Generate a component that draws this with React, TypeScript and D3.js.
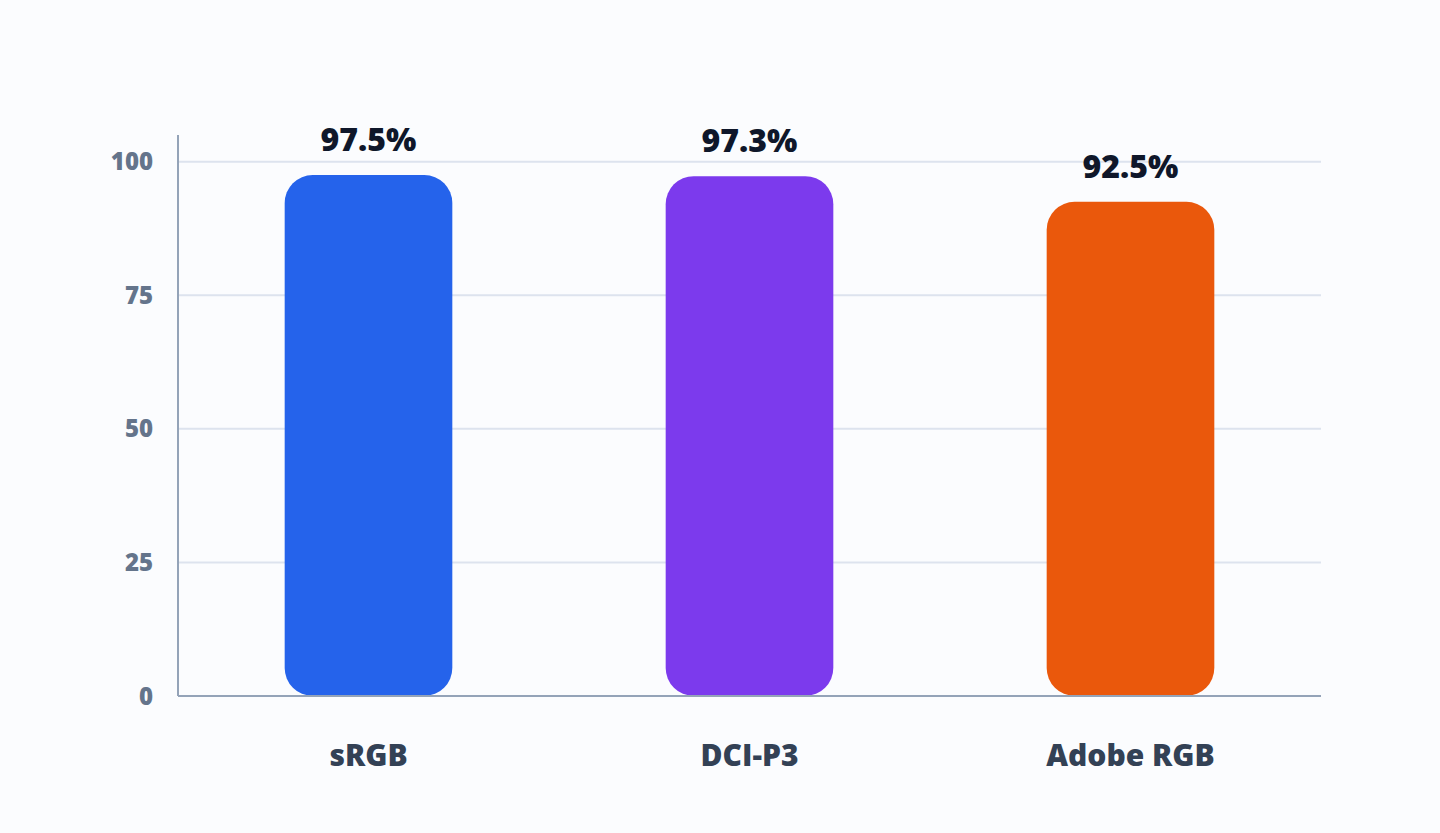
import React, {useRef, useEffect} from "react";
import * as d3 from "d3";

const categories = ["sRGB", "DCI-P3", "Adobe RGB"];
const coverage = [97.5, 97.3, 92.5];
const barColors = ["#2563eb", "#7c3aed", "#ea580c"];
const yTicks = [0, 25, 50, 75, 100];

const W = 1440;
const H = 833;
const FONT = "'Open Sans', 'Noto Sans', sans-serif";

export default function App() {
  const svgRef = useRef<SVGSVGElement>(null);

  useEffect(() => {
    if (!svgRef.current) return;
    const margin = {top: 135, right: 119, bottom: 137, left: 178};
    const width = W - margin.left - margin.right;
    const height = H - margin.top - margin.bottom;

    const svg = d3.select(svgRef.current);
    svg.selectAll("*").remove();
    const g = svg.append("g").attr("transform", `translate(${margin.left},${margin.top})`);

    const x = d3
      .scaleBand()
      .domain(categories)
      .range([0, width])
      .paddingInner(0.56)
      .paddingOuter(0.28);

    const y = d3.scaleLinear().domain([0, 105]).range([height, 0]);

    // grid lines
    g.selectAll(".grid")
      .data(yTicks.filter((d) => d > 0))
      .join("line")
      .attr("x1", 0)
      .attr("x2", width)
      .attr("y1", (d) => y(d))
      .attr("y2", (d) => y(d))
      .attr("stroke", "#dde3ee")
      .attr("stroke-width", 2);

    // y tick labels
    g.selectAll(".ytick")
      .data(yTicks)
      .join("text")
      .attr("x", -25)
      .attr("y", (d) => y(d))
      .attr("dy", "0.36em")
      .attr("text-anchor", "end")
      .style("font-family", FONT)
      .style("font-weight", 800)
      .style("font-size", "24px")
      .style("fill", "#64748b")
      .text((d) => d);

    // bars
    const bars = categories.map((c, i) => ({cat: c, value: coverage[i], color: barColors[i]}));
    g.selectAll(".bar")
      .data(bars)
      .join("rect")
      .attr("x", (d) => x(d.cat))
      .attr("y", (d) => y(d.value))
      .attr("width", x.bandwidth())
      .attr("height", (d) => y(0) - y(d.value))
      .attr("rx", 28)
      .attr("ry", 28)
      .attr("fill", (d) => d.color);

    // value labels
    g.selectAll(".value")
      .data(bars)
      .join("text")
      .attr("x", (d) => x(d.cat) + x.bandwidth() / 2)
      .attr("y", (d) => y(d.value) - 24)
      .attr("text-anchor", "middle")
      .style("font-family", FONT)
      .style("font-weight", 800)
      .style("font-size", "32px")
      .style("fill", "#0f172a")
      .text((d) => `${d.value}%`);

    // axes lines
    g.append("line")
      .attr("x1", 0)
      .attr("x2", 0)
      .attr("y1", 0)
      .attr("y2", height)
      .attr("stroke", "#94a3b8")
      .attr("stroke-width", 2);
    g.append("line")
      .attr("x1", 0)
      .attr("x2", width)
      .attr("y1", height)
      .attr("y2", height)
      .attr("stroke", "#94a3b8")
      .attr("stroke-width", 2);

    // category labels
    g.selectAll(".xtick")
      .data(categories)
      .join("text")
      .attr("x", (d) => x(d) + x.bandwidth() / 2)
      .attr("y", height + 70)
      .attr("text-anchor", "middle")
      .style("font-family", FONT)
      .style("font-weight", 800)
      .style("font-size", "30px")
      .style("fill", "#334155")
      .text((d) => d);
  }, []);

  return (
    <div style={{position: "fixed", left: 0, top: 0, width: W, height: H, background: "#fbfcfe"}}>
      <svg ref={svgRef} width={W} height={H} style={{display: "block"}} />
    </div>
  );
}
